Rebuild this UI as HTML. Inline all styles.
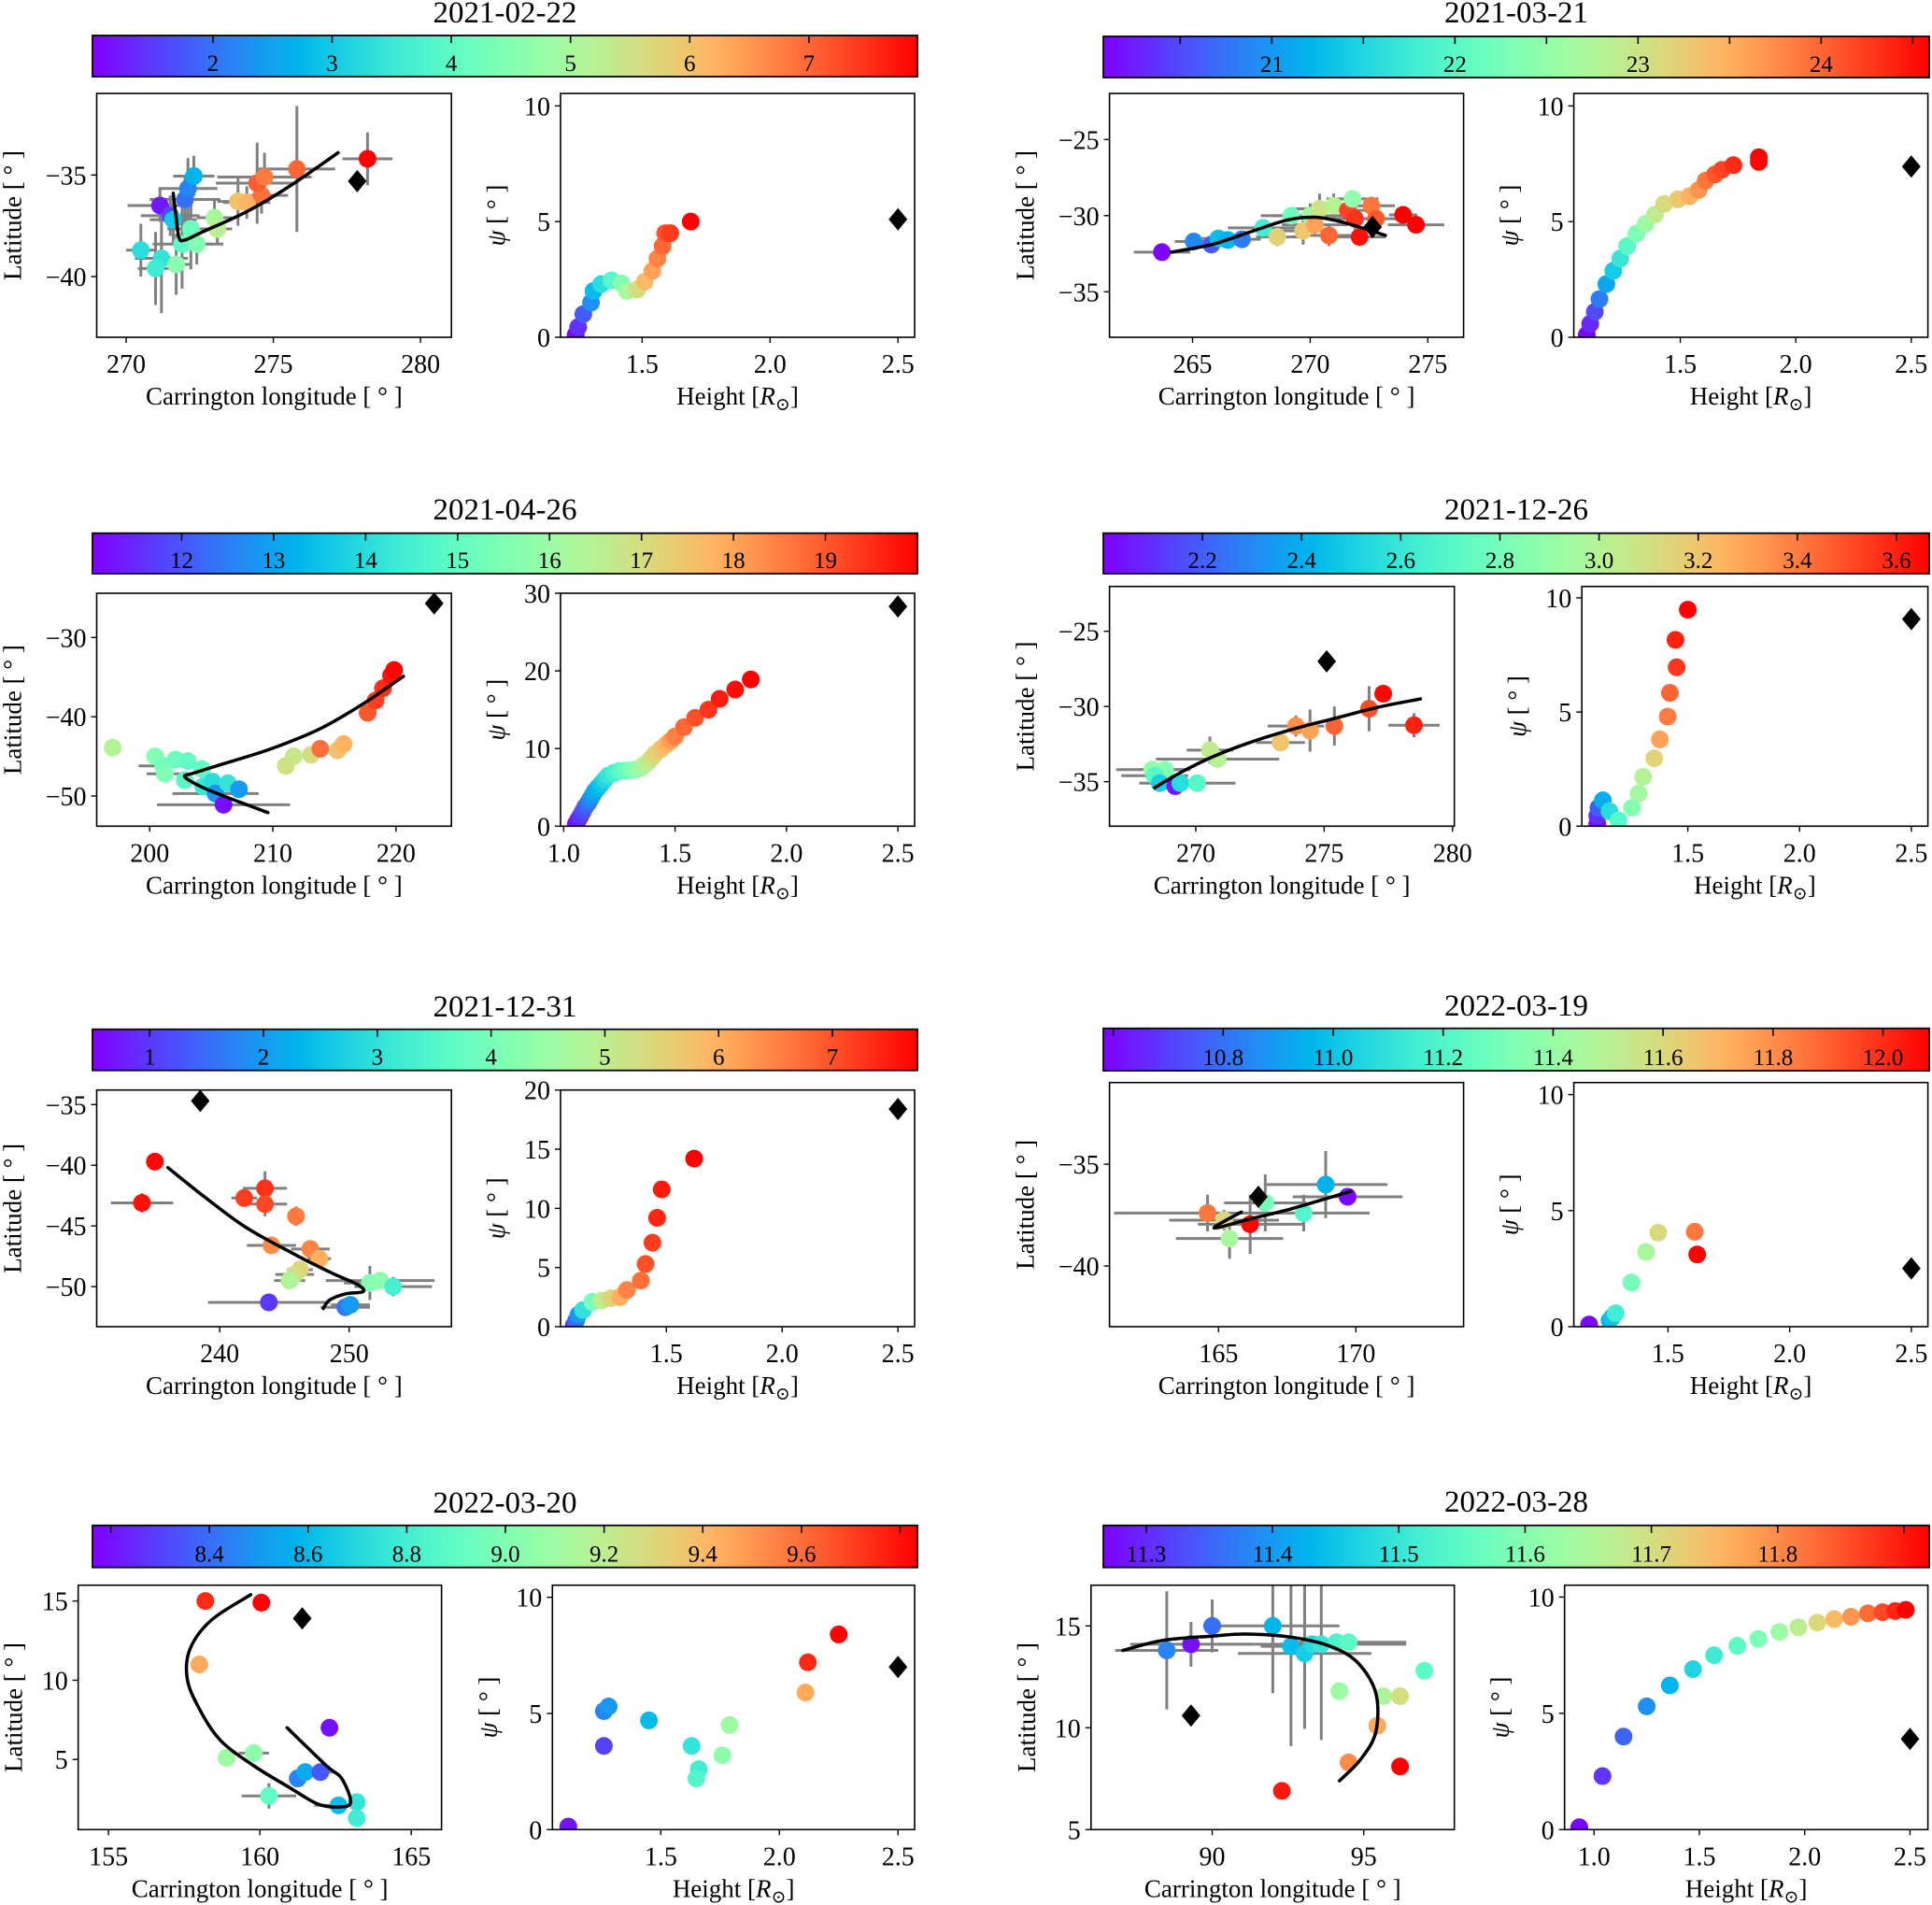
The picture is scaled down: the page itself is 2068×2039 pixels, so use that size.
<!DOCTYPE html>
<html><head><meta charset="utf-8"><title>Filament eruption panels</title>
<style>
html,body{margin:0;padding:0;background:#fff;}
svg{display:block;font-family:"Liberation Serif","DejaVu Serif",serif;}
</style></head>
<body>
<svg id="fig" xmlns="http://www.w3.org/2000/svg" width="2068" height="2039" viewBox="0 0 2068 2039">
<defs><linearGradient id="rb" x1="0" x2="1" y1="0" y2="0"></linearGradient></defs>
<rect x="0" y="0" width="2068" height="2039" fill="#fff"/>
</svg>
<script>
// ===== Panel 1: 2021-02-22 =====
const p1Title="2021-02-22";
const p1CbLim=[0.99,7.91];
const p1CbTicks=[2,3,4,5,6,7];
const p1CbLabels=["2","3","4","5","6","7"];
const p1LonLim=[269.0,281.05];
const p1LatLim=[-42.99,-30.98];
const p1LonTicks=[270,275,280];
const p1LatTicks=[-40,-35];
const p1Lon=[271.15,271.5,272.0,272.1,272.3,271.6,270.5,271.2,271.0,271.7,272.2,271.9,272.4,273.0,273.1,273.8,274.1,274.6,274.45,274.7,275.8,278.2];
const p1Lat=[-36.5,-37.0,-36.2,-35.66,-35.05,-37.2,-38.7,-39.1,-39.6,-39.4,-37.65,-38.4,-38.4,-37.1,-37.65,-36.3,-36.35,-36.0,-35.4,-35.1,-34.7,-34.2];
const p1LonErr=[1.1,1.0,1.2,1.0,0.7,0.8,0.5,0.9,0.6,0.5,0.8,1.0,0.9,0.6,0.5,0.7,0.8,0.9,1.4,1.6,1.3,0.85];
const p1LatErr=[0.8,1.0,1.2,1.5,1.0,1.2,1.3,2.7,1.8,1.5,2.0,2.2,1.0,0.9,0.8,1.2,0.8,0.9,2.0,1.2,3.1,1.3];
const p1Col=[1.2,1.6,2.0,2.2,2.7,3.0,3.3,3.4,3.6,4.6,4.2,4.0,4.5,5.0,5.2,6.0,6.2,6.9,7.1,6.8,7.0,7.9];
const p1CurveLon=[271.6,271.7,271.8,272.0,272.6,274.1,275.5,277.2];
const p1CurveLat=[-35.9,-37.1,-38.1,-38.2,-37.8,-36.8,-35.6,-33.9];
const p1DiaGeo=[277.85,-35.3];
const p1HLim=[1.181,2.565];
const p1PsiLim=[0,10.54];
const p1HTicks=[1.5,2.0,2.5];
const p1PsiTicks=[0,5,10];
const p1H=[1.24,1.25,1.27,1.30,1.31,1.34,1.38,1.42,1.44,1.48,1.51,1.54,1.56,1.58,1.59,1.61,1.69];
const p1Psi=[0.1,0.44,1.0,1.5,2.0,2.3,2.46,2.33,2.0,2.06,2.4,2.87,3.4,3.94,4.5,4.5,5.0];
const p1PsiCol=[1.0,1.4,1.8,2.3,2.8,3.3,3.9,4.5,5.0,5.6,6.1,6.4,6.7,7.0,7.2,7.4,7.9];
const p1DiaPsi=[2.5,5.1];

// ===== Panel 2: 2021-03-21 =====
const p2Title="2021-03-21";
const p2CbLim=[20.08,24.59];
const p2CbTicks=[20.5,21,21.5,22,22.5,23,23.5,24,24.5];
const p2CbLabels=["","21","","22","","23","","24",""];
const p2LonLim=[261.47,276.52];
const p2LatLim=[-37.99,-21.97];
const p2LonTicks=[265,270,275];
const p2LatTicks=[-35,-30,-25];
const p2Lon=[263.7,265.05,265.8,266.1,266.5,267.1,268.0,268.6,269.2,269.7,270.0,270.4,270.2,270.8,271.0,271.6,271.8,271.9,272.1,272.6,272.8,273.95,274.5];
const p2Lat=[-32.4,-31.7,-31.9,-31.5,-31.6,-31.55,-30.8,-31.4,-30.0,-31.0,-30.0,-29.55,-30.6,-31.3,-29.35,-29.65,-28.9,-30.2,-31.4,-29.35,-30.2,-29.95,-30.6];
const p2LonErr=[1.2,0.8,0.6,0.7,0.9,0.8,1.5,0.9,1.3,1.0,1.6,1.2,1.4,1.0,0.9,1.2,1.1,1.3,1.1,1.0,1.4,0.6,1.2];
const p2LatErr=[0.3,0.3,0.3,0.3,0.3,0.3,0.4,0.6,0.5,0.9,0.8,1.0,0.6,0.7,0.8,0.6,0.5,0.7,0.5,0.6,0.6,0.3,0.3];
const p2Col=[20.1,20.9,20.6,21.3,21.2,20.8,21.8,23.2,22.2,23.3,22.6,23.0,23.6,24.0,22.8,24.2,22.5,24.3,24.5,23.9,24.1,24.6,24.6];
const p2CurveLon=[264.1,265.8,267.4,269.0,270.2,271.3,272.4,273.2];
const p2CurveLat=[-32.4,-31.9,-31.1,-30.3,-30.1,-30.4,-30.9,-31.3];
const p2DiaGeo=[272.65,-30.75];
const p2HLim=[1.039,2.572];
const p2PsiLim=[0,10.54];
const p2HTicks=[1.5,2.0,2.5];
const p2PsiTicks=[0,5,10];
const p2H=[1.095,1.11,1.13,1.15,1.18,1.21,1.24,1.27,1.31,1.35,1.39,1.43,1.49,1.54,1.58,1.61,1.65,1.68,1.73,1.84,1.84];
const p2Psi=[0.1,0.58,1.1,1.65,2.3,2.87,3.4,3.94,4.48,4.9,5.3,5.76,5.96,6.1,6.37,6.77,7.04,7.24,7.44,7.78,7.58];
const p2PsiCol=[20.1,20.3,20.5,20.8,21.1,21.4,21.7,22.0,22.3,22.6,22.9,23.1,23.3,23.5,23.7,23.9,24.1,24.2,24.35,24.59,24.55];
const p2DiaPsi=[2.5,7.38];

// ===== Panel 3: 2021-04-26 =====
const p3Title="2021-04-26";
const p3CbLim=[11.03,20.0];
const p3CbTicks=[12,13,14,15,16,17,18,19];
const p3CbLabels=["12","13","14","15","16","17","18","19"];
const p3LonLim=[195.7,224.5];
const p3LatLim=[-53.81,-24.42];
const p3LonTicks=[200,210,220];
const p3LatTicks=[-50,-40,-30];
const p3Lon=[197.0,200.45,201.1,201.25,202.1,203.1,202.85,204.25,204.35,205.1,205.35,206.35,207.25,206.0,211.05,211.7,213.1,213.85,215.25,215.75,217.7,218.35,218.95,219.6,219.85];
const p3Lat=[-43.9,-45.0,-46.2,-47.2,-45.4,-45.6,-48.0,-46.6,-48.8,-48.2,-49.7,-48.4,-49.15,-51.1,-46.2,-45.0,-44.8,-44.05,-44.25,-43.45,-39.5,-37.95,-36.4,-34.8,-34.1];
const p3LonErr=[0,0,2.0,1.5,0,0,0,0,0,0,3.5,0,0,5.4,0,0,0,0,0,0,0,0,0,0,0];
const p3LatErr=[0,0,0,0,0,0,0,0,0,0,0,0,0,1.0,0,0,0,0,0,0,0,0,0,0,0];
const p3Col=[16.4,15.6,15.3,15.5,15.2,15.0,14.8,15.0,14.3,14.0,12.8,14.2,12.9,11.2,16.9,16.8,17.0,18.7,17.5,17.8,19.0,19.3,19.5,19.8,19.95];
const p3CurveLon=[209.6,206.85,204.35,202.85,203.6,205.85,209.85,213.85,217.35,220.6];
const p3CurveLat=[-52.1,-50.5,-48.95,-47.6,-47.1,-46.0,-44.05,-41.5,-38.35,-34.9];
const p3DiaGeo=[223.1,-25.7];
const p3HLim=[0.986,2.575];
const p3PsiLim=[0,30];
const p3HTicks=[1.0,1.5,2.0,2.5];
const p3PsiTicks=[0,10,20,30];
const p3H=[1.055,1.065,1.075,1.086,1.097,1.11,1.12,1.13,1.14,1.155,1.17,1.185,1.20,1.225,1.25,1.275,1.30,1.325,1.345,1.36,1.38,1.395,1.41,1.435,1.46,1.48,1.50,1.54,1.59,1.65,1.70,1.77,1.84];
const p3Psi=[0.3,0.8,1.3,1.9,2.5,3.0,3.5,4.0,4.5,5.0,5.5,6.0,6.5,6.85,7.1,7.15,7.2,7.3,7.5,7.85,8.3,8.8,9.3,9.9,10.5,11.0,11.55,12.75,13.95,15.0,16.4,17.6,18.9];
const p3PsiCol=[11.1,11.35,11.6,11.85,12.1,12.35,12.6,12.85,13.1,13.35,13.6,13.9,14.2,14.5,14.8,15.1,15.4,15.7,16.0,16.3,16.6,16.9,17.2,17.5,17.8,18.1,18.5,18.8,19.1,19.4,19.7,19.85,20.0];
const p3DiaPsi=[2.5,28.3];

// ===== Panel 4: 2021-12-26 =====
const p4Title="2021-12-26";
const p4CbLim=[2.0,3.666];
const p4CbTicks=[2.2,2.4,2.6,2.8,3.0,3.2,3.4,3.6];
const p4CbLabels=["2.2","2.4","2.6","2.8","3.0","3.2","3.4","3.6"];
const p4LonLim=[266.64,280.07];
const p4LatLim=[-37.96,-22.02];
const p4LonTicks=[270,275,280];
const p4LatTicks=[-35,-30,-25];
const p4Lon=[268.3,268.8,268.4,268.6,269.2,269.4,270.05,270.55,270.85,273.3,273.9,274.45,275.4,276.75,277.3,278.5];
const p4Lat=[-34.2,-34.2,-34.6,-35.1,-35.3,-35.1,-35.1,-32.9,-33.5,-32.4,-31.3,-31.6,-31.3,-30.15,-29.15,-31.25];
const p4LonErr=[1.4,1.0,1.3,0.8,0,0,1.5,0.9,2.4,0.95,1.1,0,0,0,0,1.0];
const p4LatErr=[0.3,0.3,0.3,0,0,0,0,0.9,0.5,0.3,0.7,1.4,1.3,1.5,0,0.8];
const p4Col=[2.9,2.85,2.7,2.5,2.05,2.55,2.7,3.05,3.0,3.2,3.35,3.3,3.45,3.5,3.65,3.6];
const p4CurveLon=[268.4,269.4,270.65,272.1,273.8,275.4,277.1,278.75];
const p4CurveLat=[-35.4,-34.4,-33.35,-32.4,-31.5,-30.8,-30.05,-29.5];
const p4DiaGeo=[275.1,-27.0];
const p4HLim=[1.026,2.574];
const p4PsiLim=[0,10.5];
const p4HTicks=[1.5,2.0,2.5];
const p4PsiTicks=[0,5,10];
const p4H=[1.095,1.095,1.10,1.12,1.15,1.19,1.25,1.28,1.30,1.35,1.375,1.41,1.42,1.45,1.445,1.50];
const p4Psi=[0.1,0.45,0.8,1.13,0.65,0.25,0.8,1.43,2.16,2.97,3.8,4.8,5.84,6.96,8.16,9.48];
const p4PsiCol=[2.0,2.1,2.2,2.4,2.55,2.7,2.85,2.95,3.0,3.15,3.3,3.4,3.45,3.55,3.6,3.666];
const p4DiaPsi=[2.5,9.07];

// ===== Panel 5: 2021-12-31 =====
const p5Title="2021-12-31";
const p5CbLim=[0.497,7.747];
const p5CbTicks=[1,2,3,4,5,6,7];
const p5CbLabels=["1","2","3","4","5","6","7"];
const p5LonLim=[230.5,257.9];
const p5LatLim=[-53.3,-33.8];
const p5LonTicks=[240,250];
const p5LatTicks=[-50,-45,-40,-35];
const p5Lon=[234.0,235.0,241.9,243.5,243.5,245.9,244.0,247.0,247.7,246.2,245.8,245.4,251.6,252.4,253.4,243.8,249.7,250.1];
const p5Lat=[-43.1,-39.7,-42.7,-41.9,-43.2,-44.2,-46.6,-46.9,-47.7,-48.6,-49.0,-49.5,-49.7,-49.5,-50.0,-51.3,-51.7,-51.5];
const p5LonErr=[2.4,0.5,1.0,1.7,1.7,0.5,1.9,1.5,0.9,1.0,1.5,1.2,2.0,4.2,3.0,4.7,1.9,1.5];
const p5LatErr=[0.8,0.4,0.4,1.4,1.0,0.8,0.6,0.6,0.5,0.6,0.5,0.5,1.4,0.5,0.8,0.6,0.6,0.6];
const p5Col=[7.6,7.7,7.2,7.3,7.1,6.6,6.4,6.5,6.0,5.5,5.3,4.8,4.2,4.3,3.3,1.0,1.6,2.0];
const p5CurveLon=[236.0,238.7,242.0,245.9,248.7,250.6,251.1,249.7,248.5,248.0];
const p5CurveLat=[-40.2,-42.5,-45.1,-47.4,-48.9,-49.8,-50.4,-50.6,-51.1,-51.8];
const p5DiaGeo=[238.5,-34.7];
const p5HLim=[1.043,2.572];
const p5PsiLim=[0,20];
const p5HTicks=[1.5,2.0,2.5];
const p5PsiTicks=[0,5,10,15,20];
const p5H=[1.10,1.11,1.12,1.14,1.18,1.22,1.26,1.30,1.33,1.39,1.41,1.44,1.46,1.48,1.62];
const p5Psi=[0.1,0.5,1.0,1.4,2.1,2.2,2.4,2.5,3.1,3.9,5.3,7.1,9.2,11.6,14.2];
const p5PsiCol=[1.0,1.5,2.0,3.0,4.0,5.0,5.5,6.0,6.5,6.7,7.0,7.2,7.4,7.5,7.75];
const p5DiaPsi=[2.5,18.4];

// ===== Panel 6: 2022-03-19 =====
const p6Title="2022-03-19";
const p6CbLim=[10.582,12.084];
const p6CbTicks=[10.6,10.8,11.0,11.2,11.4,11.6,11.8,12.0];
const p6CbLabels=["","10.8","11.0","11.2","11.4","11.6","11.8","12.0"];
const p6LonLim=[161.03,173.92];
const p6LatLim=[-42.98,-30.99];
const p6LonTicks=[165,170];
const p6LatTicks=[-40,-35];
const p6Lon=[164.6,165.2,165.4,166.15,166.7,168.1,168.9,169.7];
const p6Lat=[-37.4,-37.75,-38.65,-37.95,-36.9,-37.4,-36.0,-36.6];
const p6LonErr=[3.4,2.0,1.95,1.9,1.5,2.4,2.25,2.0];
const p6LatErr=[0.9,0.5,1.0,1.45,1.4,0.9,1.65,0.4];
const p6Col=[11.85,11.6,11.45,12.08,11.3,11.2,10.95,10.6];
const p6CurveLon=[165.83,164.84,166.12,167.7,169.82];
const p6CurveLat=[-37.35,-38.13,-37.7,-37.17,-36.33];
const p6DiaGeo=[166.45,-36.6];
const p6HLim=[1.113,2.568];
const p6PsiLim=[0,10.52];
const p6HTicks=[1.5,2.0,2.5];
const p6PsiTicks=[0,5,10];
const p6H=[1.176,1.26,1.27,1.285,1.35,1.41,1.46,1.61,1.62];
const p6Psi=[0.09,0.27,0.4,0.58,1.9,3.22,4.05,4.09,3.11];
const p6PsiCol=[10.6,10.95,11.0,11.15,11.3,11.45,11.6,11.85,12.08];
const p6DiaPsi=[2.5,2.51];

// ===== Panel 7: 2022-03-20 =====
const p7Title="2022-03-20";
const p7CbLim=[8.163,9.835];
const p7CbTicks=[8.2,8.4,8.6,8.8,9.0,9.2,9.4,9.6,9.8];
const p7CbLabels=["","8.4","8.6","8.8","9.0","9.2","9.4","9.6",""];
const p7LonLim=[154.0,166.0];
const p7LatLim=[0.57,16.0];
const p7LonTicks=[155,160,165];
const p7LatTicks=[5,10,15];
const p7Lon=[158.2,160.05,158.0,158.9,159.8,160.3,161.25,161.5,162.0,162.3,162.6,163.2,163.2];
const p7Lat=[15.0,14.9,11.0,5.1,5.4,2.7,3.8,4.2,4.2,7.0,2.1,2.3,1.3];
const p7LonErr=[0,0,0,0,0.5,0.9,0,0,0.5,0,0.8,0,0];
const p7LatErr=[0,0,0,0,0,0.8,0,0,0,0,0,0,0];
const p7Col=[9.75,9.83,9.45,9.1,9.05,8.9,8.45,8.55,8.35,8.2,8.6,8.75,8.8];
const p7CurveLon=[159.7,158.4,157.7,157.6,158.0,158.7,159.8,161.0,161.9,162.6,163.0,162.7,162.2,160.9];
const p7CurveLat=[15.4,13.8,12.0,10.1,8.2,6.2,4.6,3.2,2.2,2.0,2.3,3.8,4.6,7.0];
const p7DiaGeo=[161.4,13.9];
const p7HLim=[1.043,2.57];
const p7PsiLim=[0,10.52];
const p7HTicks=[1.5,2.0,2.5];
const p7PsiTicks=[0,5,10];
const p7H=[1.11,1.26,1.26,1.28,1.45,1.63,1.66,1.65,1.76,1.79,2.11,2.12,2.25];
const p7Psi=[0.13,3.6,5.1,5.3,4.7,3.6,2.6,2.2,3.2,4.5,5.9,7.2,8.4];
const p7PsiCol=[8.2,8.3,8.45,8.5,8.6,8.75,8.8,8.85,9.05,9.1,9.45,9.75,9.83];
const p7DiaPsi=[2.5,7.0];

// ===== Panel 8: 2022-03-28 =====
const p8Title="2022-03-28";
const p8CbLim=[11.266,11.92];
const p8CbTicks=[11.3,11.4,11.5,11.6,11.7,11.8,11.9];
const p8CbLabels=["11.3","11.4","11.5","11.6","11.7","11.8",""];
const p8LonLim=[86.0,97.99];
const p8LatLim=[5,17.0];
const p8LonTicks=[90,95];
const p8LatTicks=[5,10,15];
const p8Lon=[88.5,89.3,90.0,92.0,92.6,93.05,93.3,93.6,94.1,94.5,97.0,94.2,95.65,96.2,95.45,94.5,92.3,96.2];
const p8Lat=[13.8,14.1,15.0,15.0,14.0,13.65,14.1,14.1,14.2,14.2,12.8,11.8,11.55,11.55,10.1,8.3,6.9,8.1];
const p8LonErr=[1.7,2.0,0.3,2.2,1.0,2.2,3.1,0.6,0.8,1.9,0,0,0,0,0,0,0,0];
const p8LatErr=[2.9,1.1,1.3,3.3,4.9,3.7,0,4.7,0,0,0,0,0,0,0,0,0,0];
const p8Col=[11.38,11.28,11.36,11.43,11.44,11.46,11.48,11.5,11.53,11.55,11.55,11.63,11.65,11.7,11.77,11.8,11.9,11.92];
const p8CurveLon=[87.05,88.4,90.0,91.1,92.6,93.9,94.8,95.4,95.4,94.9,94.2];
const p8CurveLat=[13.8,14.3,14.5,14.6,14.45,14.0,13.2,11.7,9.8,8.45,7.4];
const p8DiaGeo=[89.3,10.6];
const p8HLim=[0.86,2.585];
const p8PsiLim=[0,10.51];
const p8HTicks=[1.0,1.5,2.0,2.5];
const p8PsiTicks=[0,5,10];
const p8H=[0.93,1.04,1.14,1.25,1.36,1.47,1.57,1.68,1.78,1.88,1.97,2.06,2.14,2.22,2.30,2.37,2.43,2.48];
const p8Psi=[0.1,2.3,4.0,5.3,6.2,6.9,7.5,7.9,8.2,8.5,8.7,8.9,9.05,9.15,9.3,9.35,9.4,9.45];
const p8PsiCol=[11.27,11.31,11.35,11.39,11.43,11.47,11.51,11.55,11.59,11.63,11.67,11.71,11.75,11.79,11.83,11.86,11.89,11.92];
const p8DiaPsi=[2.5,3.9];

// ===== layout (pixel geometry, not data) =====
const LC={cb:[99,982], L:[103.5,483.2], R:[600,979]};
const RC={cb:[1181,2065], L:[1187.6,1566.6], R:[1684.6,2063.6]};
const panels=[
 {id:"p1",title:p1Title,ty:24,cbx:LC.cb,cby:[38,82],cbLim:p1CbLim,cbT:p1CbTicks,cbL:p1CbLabels,
  L:{bx:LC.L,by:[100,361],xlim:p1LonLim,ylim:p1LatLim,xt:p1LonTicks,yt:p1LatTicks,x:p1Lon,y:p1Lat,xe:p1LonErr,ye:p1LatErr,c:p1Col,cx:p1CurveLon,cy:p1CurveLat,d:p1DiaGeo},
  R:{bx:LC.R,by:[100,361],xlim:p1HLim,ylim:p1PsiLim,xt:p1HTicks,yt:p1PsiTicks,x:p1H,y:p1Psi,c:p1PsiCol,d:p1DiaPsi}},
 {id:"p2",title:p2Title,ty:24,cbx:RC.cb,cby:[39,83],cbLim:p2CbLim,cbT:p2CbTicks,cbL:p2CbLabels,
  L:{bx:RC.L,by:[100,361],xlim:p2LonLim,ylim:p2LatLim,xt:p2LonTicks,yt:p2LatTicks,x:p2Lon,y:p2Lat,xe:p2LonErr,ye:p2LatErr,c:p2Col,cx:p2CurveLon,cy:p2CurveLat,d:p2DiaGeo},
  R:{bx:RC.R,by:[100,361],xlim:p2HLim,ylim:p2PsiLim,xt:p2HTicks,yt:p2PsiTicks,x:p2H,y:p2Psi,c:p2PsiCol,d:p2DiaPsi}},
 {id:"p3",title:p3Title,ty:556,cbx:LC.cb,cby:[570.7,614],cbLim:p3CbLim,cbT:p3CbTicks,cbL:p3CbLabels,
  L:{bx:LC.L,by:[635,884.3],xlim:p3LonLim,ylim:p3LatLim,xt:p3LonTicks,yt:p3LatTicks,x:p3Lon,y:p3Lat,xe:p3LonErr,ye:p3LatErr,c:p3Col,cx:p3CurveLon,cy:p3CurveLat,d:p3DiaGeo},
  R:{bx:LC.R,by:[635,884.3],xlim:p3HLim,ylim:p3PsiLim,xt:p3HTicks,yt:p3PsiTicks,x:p3H,y:p3Psi,c:p3PsiCol,d:p3DiaPsi}},
 {id:"p4",title:p4Title,ty:556,cbx:RC.cb,cby:[570.7,614],cbLim:p4CbLim,cbT:p4CbTicks,cbL:p4CbLabels,
  L:{bx:[1187.6,1556.7],by:[627.7,884.3],xlim:p4LonLim,ylim:p4LatLim,xt:p4LonTicks,yt:p4LatTicks,x:p4Lon,y:p4Lat,xe:p4LonErr,ye:p4LatErr,c:p4Col,cx:p4CurveLon,cy:p4CurveLat,d:p4DiaGeo},
  R:{bx:[1693.2,2063.6],by:[627.7,884.3],xlim:p4HLim,ylim:p4PsiLim,xt:p4HTicks,yt:p4PsiTicks,x:p4H,y:p4Psi,c:p4PsiCol,d:p4DiaPsi}},
 {id:"p5",title:p5Title,ty:1088,cbx:LC.cb,cby:[1101.7,1145.7],cbLim:p5CbLim,cbT:p5CbTicks,cbL:p5CbLabels,
  L:{bx:LC.L,by:[1166.7,1420],xlim:p5LonLim,ylim:p5LatLim,xt:p5LonTicks,yt:p5LatTicks,x:p5Lon,y:p5Lat,xe:p5LonErr,ye:p5LatErr,c:p5Col,cx:p5CurveLon,cy:p5CurveLat,d:p5DiaGeo},
  R:{bx:LC.R,by:[1166.7,1420],xlim:p5HLim,ylim:p5PsiLim,xt:p5HTicks,yt:p5PsiTicks,x:p5H,y:p5Psi,c:p5PsiCol,d:p5DiaPsi}},
 {id:"p6",title:p6Title,ty:1087,cbx:RC.cb,cby:[1100.7,1146],cbLim:p6CbLim,cbT:p6CbTicks,cbL:p6CbLabels,
  L:{bx:RC.L,by:[1158.7,1420],xlim:p6LonLim,ylim:p6LatLim,xt:p6LonTicks,yt:p6LatTicks,x:p6Lon,y:p6Lat,xe:p6LonErr,ye:p6LatErr,c:p6Col,cx:p6CurveLon,cy:p6CurveLat,d:p6DiaGeo},
  R:{bx:RC.R,by:[1158.7,1420],xlim:p6HLim,ylim:p6PsiLim,xt:p6HTicks,yt:p6PsiTicks,x:p6H,y:p6Psi,c:p6PsiCol,d:p6DiaPsi}},
 {id:"p7",title:p7Title,ty:1619,cbx:LC.cb,cby:[1632.7,1677.7],cbLim:p7CbLim,cbT:p7CbTicks,cbL:p7CbLabels,
  L:{bx:[83.7,472.6],by:[1696.7,1958.3],xlim:p7LonLim,ylim:p7LatLim,xt:p7LonTicks,yt:p7LatTicks,x:p7Lon,y:p7Lat,xe:p7LonErr,ye:p7LatErr,c:p7Col,cx:p7CurveLon,cy:p7CurveLat,d:p7DiaGeo},
  R:{bx:[591.3,979],by:[1696.7,1958.3],xlim:p7HLim,ylim:p7PsiLim,xt:p7HTicks,yt:p7PsiTicks,x:p7H,y:p7Psi,c:p7PsiCol,d:p7DiaPsi}},
 {id:"p8",title:p8Title,ty:1618,cbx:RC.cb,cby:[1632.7,1677.7],cbLim:p8CbLim,cbT:p8CbTicks,cbL:p8CbLabels,
  L:{bx:[1167.8,1556.7],by:[1696.7,1958.3],xlim:p8LonLim,ylim:p8LatLim,xt:p8LonTicks,yt:p8LatTicks,x:p8Lon,y:p8Lat,xe:p8LonErr,ye:p8LatErr,c:p8Col,cx:p8CurveLon,cy:p8CurveLat,d:p8DiaGeo},
  R:{bx:[1674.7,2063.6],by:[1696.7,1958.3],xlim:p8HLim,ylim:p8PsiLim,xt:p8HTicks,yt:p8PsiTicks,x:p8H,y:p8Psi,c:p8PsiCol,d:p8DiaPsi}}
];

const NS="http://www.w3.org/2000/svg";
const svg=document.getElementById("fig");
function mk(tag,attrs,parent){const e=document.createElementNS(NS,tag);for(const k in attrs)e.setAttribute(k,attrs[k]);parent.appendChild(e);return e;}
function rainbow(t){t=Math.max(0,Math.min(1,t));
 const r=Math.min(1,Math.abs(2*t-0.5)),g=Math.sin(Math.PI*t),b=Math.cos(Math.PI*t/2);
 return "rgb("+Math.round(255*r)+","+Math.round(255*Math.max(0,g))+","+Math.round(255*Math.max(0,b))+")";}
const grad=svg.querySelector("#rb");
for(let i=0;i<=40;i++){mk("stop",{offset:(i/40),"stop-color":rainbow(i/40)},grad);}
function fmt(v){return (v<0?"\u2212":"")+Math.abs(v);}
function fmt1(v){return v.toFixed(1);}
function smoothPath(P){
 if(P.length<3){return "M"+P.map(p=>p[0].toFixed(1)+","+p[1].toFixed(1)).join("L");}
 let d="M"+P[0][0].toFixed(1)+","+P[0][1].toFixed(1);
 for(let i=0;i<P.length-1;i++){
  const p0=P[Math.max(0,i-1)],p1=P[i],p2=P[i+1],p3=P[Math.min(P.length-1,i+2)];
  const c1=[p1[0]+(p2[0]-p0[0])/6,p1[1]+(p2[1]-p0[1])/6];
  const c2=[p2[0]-(p3[0]-p1[0])/6,p2[1]-(p3[1]-p1[1])/6];
  d+="C"+c1[0].toFixed(1)+","+c1[1].toFixed(1)+" "+c2[0].toFixed(1)+","+c2[1].toFixed(1)+" "+p2[0].toFixed(1)+","+p2[1].toFixed(1);
 }
 return d;
}

function drawAxes(g,ax,kind,pid,cbLim){
 const [x0,x1]=ax.bx,[y0,y1]=ax.by;
 const sx=v=>x0+(v-ax.xlim[0])/(ax.xlim[1]-ax.xlim[0])*(x1-x0);
 const sy=v=>y1-(v-ax.ylim[0])/(ax.ylim[1]-ax.ylim[0])*(y1-y0);
 const col=v=>rainbow((v-cbLim[0])/(cbLim[1]-cbLim[0]));
 const cid="clip-"+pid+kind;
 const cp=mk("clipPath",{id:cid},svg.querySelector("defs"));
 mk("rect",{x:x0,y:y0,width:x1-x0,height:y1-y0},cp);
 const plot=mk("g",{"clip-path":"url(#"+cid+")"},g);
 
 
 if(ax.xe){
  const eb=mk("g",{stroke:"#808080","stroke-width":3,fill:"none"},plot);
  
  
  for(let i=0;i<ax.x.length;i++){
   const px=sx(ax.x[i]),py=sy(ax.y[i]);
   if(ax.xe[i]>0){const l=mk("line",{x1:sx(ax.x[i]-ax.xe[i]),x2:sx(ax.x[i]+ax.xe[i]),y1:py,y2:py},eb);
    
    }
   if(ax.ye[i]>0){const l=mk("line",{x1:px,x2:px,y1:sy(ax.y[i]-ax.ye[i]),y2:sy(ax.y[i]+ax.ye[i])},eb);
    
    }
  }
 }
 for(let i=0;i<ax.x.length;i++){
  const c=mk("circle",{cx:sx(ax.x[i]),cy:sy(ax.y[i]),r:9.5,fill:col(ax.c[i])},plot);
  
  
 }
 if(ax.cx){
  const pts=ax.cx.map((v,i)=>[sx(v),sy(ax.cy[i])]);
  const p=mk("path",{d:smoothPath(pts),fill:"none",stroke:"#000","stroke-width":3.5,"stroke-linejoin":"round","stroke-linecap":"round"},plot);
  
  
 }
 const dx=sx(ax.d[0]),dy=sy(ax.d[1]);
 const dm=mk("path",{d:"M"+dx+","+(dy-12)+"L"+(dx+10)+","+dy+"L"+dx+","+(dy+12)+"L"+(dx-10)+","+dy+"Z",fill:"#000"},g);
 
 
 const fr=mk("rect",{x:x0,y:y0,width:x1-x0,height:y1-y0,fill:"none",stroke:"#000","stroke-width":1.6},g);
 
 
 for(const v of ax.xt){const px=sx(v);
  mk("line",{x1:px,x2:px,y1:y1,y2:y1+6,stroke:"#000","stroke-width":1.4},g);
  const t=mk("text",{x:px,y:y1+38,"font-size":28,"text-anchor":"middle"},g);
  t.textContent=kind==="L"?fmt(v):fmt1(v);
  
  }
 let maxLen=0;
 for(const v of ax.yt){const py=sy(v);
  mk("line",{x1:x0-6,x2:x0,y1:py,y2:py,stroke:"#000","stroke-width":1.4},g);
  const s=fmt(v);maxLen=Math.max(maxLen,s.length);
  const t=mk("text",{x:x0-11,y:py+10,"font-size":28,"text-anchor":"end"},g);
  t.textContent=s;
  
  }
 const xl=mk("text",{x:(x0+x1)/2,y:y1+72,"font-size":27,"text-anchor":"middle"},g);
 if(kind==="L"){xl.textContent="Carrington longitude [ \u00b0 ]";}
 else{xl.appendChild(document.createTextNode("Height ["));
  const r=mk("tspan",{"font-style":"italic"},xl);r.textContent="R";
  const s=mk("tspan",{"font-size":19,dy:6},xl);s.textContent="\u2299";
  const e=mk("tspan",{dy:-6},xl);e.textContent="]";}
 
 
 const lx=x0-(18+21*maxLen),ly=(y0+y1)/2;
 const yl=mk("text",{x:lx,y:ly,"font-size":27,"text-anchor":"middle",transform:"rotate(-90 "+lx+" "+ly+")"},g);
 if(kind==="L"){yl.textContent="Latitude [ \u00b0 ]";}
 else{const p=mk("tspan",{"font-style":"italic"},yl);p.textContent="\u03c8";
  const q=mk("tspan",{},yl);q.textContent=" [ \u00b0 ]";}
 
 
}

panels.forEach((P)=>{
 const g=mk("g",{},svg);
 
 
 const [cx0,cx1]=P.cbx,[cy0,cy1]=P.cby;
 const tt=mk("text",{x:(cx0+cx1)/2,y:P.ty,"font-size":33,"text-anchor":"middle"},g);
 tt.textContent=P.title;
 
 
 const cb=mk("g",{},g);
 
 
 const rr=mk("rect",{x:cx0,y:cy0,width:cx1-cx0,height:cy1-cy0,fill:"url(#rb)",stroke:"#000","stroke-width":1.8},cb);
 
 
 const cs=v=>cx0+(v-P.cbLim[0])/(P.cbLim[1]-P.cbLim[0])*(cx1-cx0);
 P.cbT.forEach((v,i)=>{const px=cs(v);
  mk("line",{x1:px,x2:px,y1:cy0,y2:cy0+8,stroke:"#000","stroke-width":1.6},cb);
  if(P.cbL[i]){const t=mk("text",{x:px,y:cy1-6,"font-size":25,"text-anchor":"middle"},cb);
   t.textContent=P.cbL[i];
   
   }
 });
 drawAxes(g,P.L,"L",P.id,P.cbLim);
 drawAxes(g,P.R,"R",P.id,P.cbLim);
});
</script>
</body></html>
